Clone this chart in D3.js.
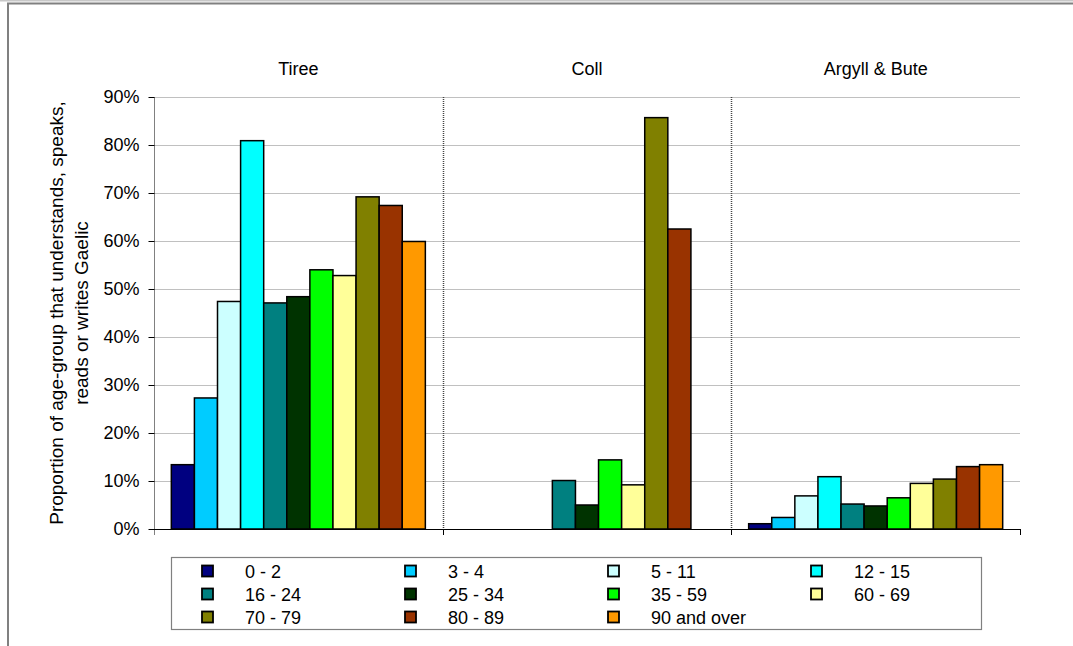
<!DOCTYPE html>
<html>
<head>
<meta charset="utf-8">
<script src="https://cdn.jsdelivr.net/npm/d3@7/dist/d3.min.js"></script>
<style>
  html, body { margin: 0; padding: 0; background: #fff; }
  svg { display: block; font-family: "Liberation Sans", Arial, sans-serif; }
</style>
</head>
<body>
<svg id="chart" width="1073" height="646"></svg>
<script>
// Areas compared
const areas = ["Tiree", "Coll", "Argyll & Bute"];

// Age groups (series)
const ageGroups = ["0 - 2", "3 - 4", "5 - 11", "12 - 15", "16 - 24", "25 - 34",
                   "35 - 59", "60 - 69", "70 - 79", "80 - 89", "90 and over"];

const ageColors = ["#000080", "#00CCFF", "#CCFFFF", "#00FFFF", "#008080", "#003300",
                   "#00FF00", "#FFFF99", "#808000", "#993300", "#FF9900"];

// Share of each age group with some Gaelic ability, per area
const tireeValues  = [0.134, 0.273, 0.474, 0.809, 0.471, 0.484, 0.540, 0.528, 0.692, 0.674, 0.599];
const collValues   = [0, 0, 0, 0, 0.101, 0.050, 0.144, 0.092, 0.857, 0.625, 0];
const argyllValues = [0.011, 0.024, 0.069, 0.109, 0.052, 0.048, 0.065, 0.095, 0.104, 0.130, 0.134];

const yTicks = [0, 0.1, 0.2, 0.3, 0.4, 0.5, 0.6, 0.7, 0.8, 0.9];

const seriesByArea = [tireeValues, collValues, argyllValues];

const FONT = 18;
const svg = d3.select("#chart");
const W = 1073;

// Outer frame
svg.append("rect").attr("x", 0).attr("y", 0).attr("width", W).attr("height", 1.5).attr("fill", "#c8c8c8");
svg.append("line").attr("x1", 7).attr("x2", W).attr("y1", 3.5).attr("y2", 3.5)
   .attr("stroke", "#808080").attr("stroke-width", 2);
svg.append("line").attr("x1", 8).attr("x2", 8).attr("y1", 3).attr("y2", 646)
   .attr("stroke", "#808080").attr("stroke-width", 2);

const plot = { left: 154, right: 1020, top: 97, bottom: 529 };

const x0 = d3.scaleBand().domain(areas).range([plot.left, plot.right]).paddingInner(0).paddingOuter(0);
const x1 = d3.scaleBand().domain(ageGroups).range([0, x0.bandwidth()]).paddingInner(0).paddingOuter(0.75);
const y = d3.scaleLinear().domain([0, 0.9]).range([plot.bottom, plot.top]);
const color = d3.scaleOrdinal().domain(ageGroups).range(ageColors);

// Horizontal gridlines
svg.append("g").selectAll("line").data(yTicks.slice(1)).join("line")
  .attr("x1", plot.left).attr("x2", plot.right)
  .attr("y1", d => Math.round(y(d)) + 0.5).attr("y2", d => Math.round(y(d)) + 0.5)
  .attr("stroke", "#c0c0c0").attr("stroke-width", 1);

// Dotted separators between areas
svg.append("g").selectAll("line").data(areas.slice(1)).join("line")
  .attr("x1", d => Math.round(x0(d)) + 0.5).attr("x2", d => Math.round(x0(d)) + 0.5)
  .attr("y1", plot.top).attr("y2", plot.bottom)
  .attr("stroke", "#444").attr("stroke-width", 1.5).attr("stroke-dasharray", "1,1");

// Y axis
const yAxis = d3.axisLeft(y).tickValues(yTicks).tickFormat(d3.format(".0%")).tickSize(6).tickPadding(9);
const gy = svg.append("g").attr("transform", `translate(${plot.left + 0.5},0)`).call(yAxis);
gy.select(".domain").attr("stroke", "#808080").attr("d", `M0,${plot.top}V${plot.bottom + 6}`);
gy.selectAll(".tick line").attr("stroke", "#000");
gy.selectAll(".tick text").attr("font-size", FONT).attr("fill", "#000")
  .attr("font-family", "'Liberation Sans', Arial, sans-serif");

// X axis line with ticks at area boundaries
const boundaries = areas.map(a => x0(a)).concat([plot.right]);
svg.append("line").attr("x1", plot.left).attr("x2", plot.right)
  .attr("y1", plot.bottom + 0.5).attr("y2", plot.bottom + 0.5).attr("stroke", "#000").attr("stroke-width", 1.2);
svg.append("g").selectAll("line").data(boundaries.slice(1)).join("line")
  .attr("x1", d => Math.round(d) + 0.5).attr("x2", d => Math.round(d) + 0.5)
  .attr("y1", plot.bottom).attr("y2", plot.bottom + 6)
  .attr("stroke", "#000").attr("stroke-width", 1);

// Area labels above plot
svg.append("g").selectAll("text").data(areas).join("text")
  .attr("x", d => x0(d) + x0.bandwidth() / 2).attr("y", 75)
  .attr("text-anchor", "middle").attr("font-size", FONT).attr("fill", "#000")
  .text(d => d);

// Bars
const groups = svg.append("g").selectAll("g").data(areas).join("g")
  .attr("transform", d => `translate(${x0(d)},0)`);

groups.selectAll("rect")
  .data((d, i) => ageGroups.map((g, j) => ({ group: g, value: seriesByArea[i][j] })).filter(e => e.value > 0))
  .join("rect")
  .attr("x", d => x1(d.group))
  .attr("y", d => y(d.value))
  .attr("width", x1.bandwidth())
  .attr("height", d => y(0) - y(d.value))
  .attr("fill", d => color(d.group))
  .attr("stroke", "#000").attr("stroke-width", 1.5);

// Y axis title
const yTitle = svg.append("text")
  .attr("transform", "translate(63,313) rotate(-90)")
  .attr("text-anchor", "middle").attr("font-size", 19).attr("fill", "#000");
yTitle.append("tspan").attr("x", 0).attr("dy", 0).text("Proportion of age-group that understands, speaks,");
yTitle.append("tspan").attr("x", 0).attr("dy", 25).text("reads or writes Gaelic");

// Legend
const legend = svg.append("g");
legend.append("rect").attr("x", 171.5).attr("y", 557.5).attr("width", 810).attr("height", 72)
  .attr("fill", "#fff").attr("stroke", "#808080").attr("stroke-width", 1.2);

const legendItems = legend.selectAll("g").data(ageGroups).join("g")
  .attr("transform", (d, i) => `translate(${201 + (i % 4) * 203},${571 + Math.floor(i / 4) * 23})`);
legendItems.append("rect")
  .attr("x", 1).attr("y", -5.5).attr("width", 11).attr("height", 11)
  .attr("fill", d => color(d)).attr("stroke", "#000").attr("stroke-width", 1.8);
legendItems.append("text")
  .attr("x", 44).attr("y", 6.5).attr("font-size", FONT).attr("fill", "#000")
  .text(d => d);
</script>
</body>
</html>
